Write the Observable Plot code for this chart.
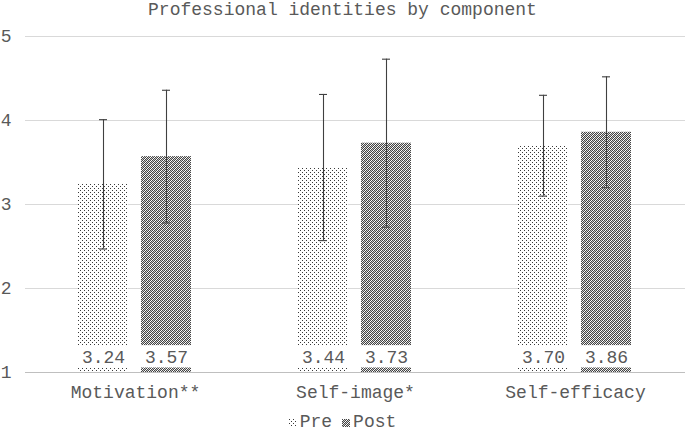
<!DOCTYPE html>
<html>
<head>
<meta charset="utf-8">
<script src="https://cdn.jsdelivr.net/npm/d3@7"></script>
<script src="https://cdn.jsdelivr.net/npm/@observablehq/plot@0.6"></script>
<style>
  html, body { margin: 0; padding: 0; background: white; overflow: hidden; }
  #wrap { width: 685px; font-family: "Liberation Mono", "Courier New", monospace; color: #595959; }
  #title { height: 22px; line-height: 20px; font-size: 18px; text-align: center; }
  #legend { box-sizing: border-box; height: 21px; padding-top: 4px; line-height: 17px; display: flex; justify-content: center; align-items: center; font-size: 18px; }
  #legend .item { display: flex; align-items: center; margin: 0 5px; }
  #legend svg { margin-right: 3px; }
</style>
</head>
<body>
<svg width="0" height="0" style="position:absolute">
  <defs>
    <pattern id="pat-pre" width="4" height="4" patternUnits="userSpaceOnUse" shape-rendering="crispEdges">
      <rect width="4" height="4" fill="white"/>
      <rect x="0" y="0" width="1" height="1" fill="#3a3a3a"/>
      <rect x="2" y="2" width="1" height="1" fill="#3a3a3a"/>
    </pattern>
    <pattern id="pat-post" width="4" height="4" patternUnits="userSpaceOnUse" shape-rendering="crispEdges">
      <rect width="4" height="4" fill="#444444"/>
      <rect x="1" y="0" width="1" height="1" fill="white"/>
      <rect x="3" y="2" width="1" height="1" fill="white"/>
      <rect x="0" y="1" width="1" height="1" fill="white"/>
      <rect x="2" y="3" width="1" height="1" fill="white"/>
      <rect x="3" y="0" width="1" height="1" fill="#c8c8c8"/>
      <rect x="1" y="2" width="1" height="1" fill="#c8c8c8"/>
      <rect x="2" y="1" width="1" height="1" fill="#c8c8c8"/>
      <rect x="0" y="3" width="1" height="1" fill="#c8c8c8"/>
    </pattern>
  </defs>
</svg>
<div id="wrap">
  <div id="title">Professional identities by component</div>
  <div id="chart"></div>
  <div id="legend"></div>
</div>
<script>
const categories = ["Motivation**", "Self-image*", "Self-efficacy"];
const series = ["Pre", "Post"];
const preMeans = [3.24, 3.44, 3.70];
const postMeans = [3.57, 3.73, 3.86];
const preSD = [0.77, 0.87, 0.60];
const postSD = [0.79, 1.00, 0.66];
const yTicks = [1, 2, 3, 4, 5];

const patterns = {Pre: "url(#pat-pre)", Post: "url(#pat-post)"};
const labelBand = [1.054, 1.32];
const labelY = 1.18;

const data = [];
categories.forEach((c, i) => {
  data.push({category: c, series: "Pre", value: preMeans[i], sd: preSD[i]});
  data.push({category: c, series: "Post", value: postMeans[i], sd: postSD[i]});
});

const chart = Plot.plot({
  width: 685,
  height: 388,
  marginLeft: 25,
  marginRight: 0,
  marginTop: 14,
  marginBottom: 38,
  style: {fontFamily: "Liberation Mono, Courier New, monospace", fontSize: "18px", color: "#595959", background: "white"},
  fx: {domain: categories, padding: 0, axis: null, label: null},
  x: {domain: series, paddingInner: 0.2, paddingOuter: 0.846, axis: null},
  y: {domain: [1, 5], axis: null, label: null},
  color: {domain: series, range: series.map(s => patterns[s])},
  marks: [
    Plot.gridY(yTicks, {stroke: "#d9d9d9", strokeOpacity: 1}),
    Plot.axisY(yTicks, {tickSize: 0, tickPadding: 14, tickFormat: d => String(d), fill: "#595959", label: null}),
    Plot.ruleY([1], {stroke: "#bfbfbf"}),
    Plot.barY(data, {fx: "category", x: "series", y1: 1, y2: "value", fill: "series"}),
    Plot.barY(data, {fx: "category", x: "series", y1: labelBand[0], y2: labelBand[1], fill: "white"}),
    Plot.text(data, {fx: "category", x: "series", y: labelY, text: d => d.value.toFixed(2), fill: "#595959"}),
    Plot.ruleX(data, {fx: "category", x: "series", y1: d => d.value - d.sd, y2: d => d.value + d.sd, stroke: "#404040", strokeWidth: 1.1}),
    Plot.tickY(data, {fx: "category", x: "series", y: d => d.value - d.sd, stroke: "#404040", strokeWidth: 1.1, insetLeft: 21, insetRight: 21}),
    Plot.tickY(data, {fx: "category", x: "series", y: d => d.value + d.sd, stroke: "#404040", strokeWidth: 1.1, insetLeft: 21, insetRight: 21}),
    Plot.axisFx({anchor: "bottom", tickSize: 0, tickPadding: 13, label: null, fill: "#595959"})
  ]
});
document.getElementById("chart").appendChild(chart);

const legend = document.getElementById("legend");
series.forEach(s => {
  const item = document.createElement("div");
  item.className = "item";
  item.innerHTML = `<svg width="8" height="8"><rect width="8" height="8" fill="${patterns[s]}"/></svg><span>${s}</span>`;
  legend.appendChild(item);
});
</script>
</body>
</html>
